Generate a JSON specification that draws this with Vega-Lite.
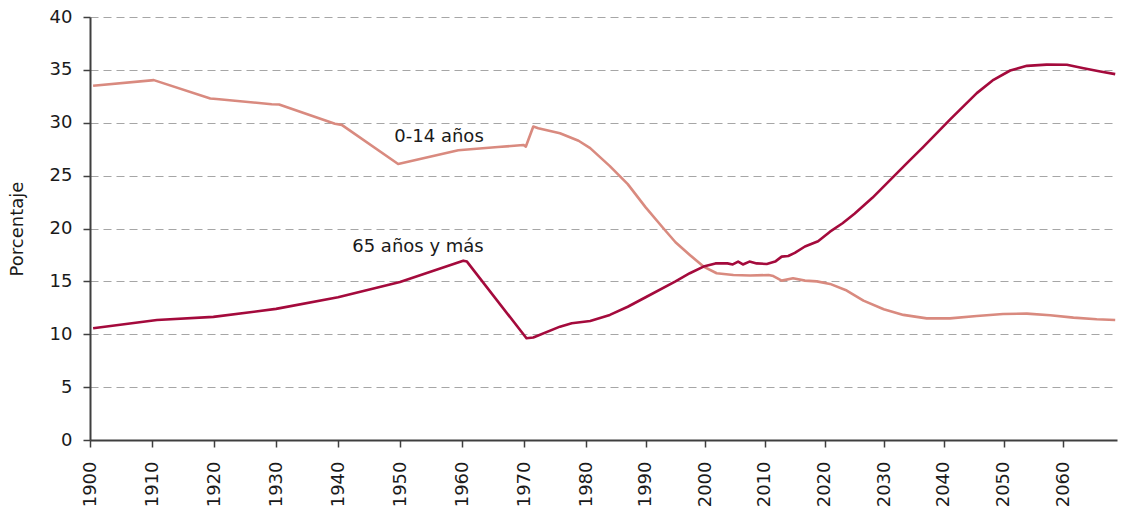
{
  "$schema": "https://vega.github.io/schema/vega-lite/v6.json",
  "width": 1027,
  "height": 423,
  "autosize": {"type": "none"},
  "padding": {"left": 90, "top": 17, "right": 6, "bottom": 74},
  "background": "white",
  "config": {
    "view": {"stroke": null},
    "font": "DejaVu Sans",
    "axis": {
      "labelFont": "DejaVu Sans",
      "labelFontSize": 18,
      "labelColor": "#1a1a1a",
      "titleFont": "DejaVu Sans",
      "titleFontSize": 18,
      "titleFontWeight": "normal",
      "titleColor": "#1a1a1a",
      "domainColor": "#3f3f3f",
      "domainWidth": 2,
      "tickColor": "#3f3f3f",
      "tickWidth": 1.5
    }
  },
  "datasets": {
    "series": [
      {"serie": "0-14 años", "year": 1900.5, "value": 33.5},
      {"serie": "0-14 años", "year": 1910.3, "value": 34.03},
      {"serie": "0-14 años", "year": 1919.4, "value": 32.3},
      {"serie": "0-14 años", "year": 1920.4, "value": 32.25},
      {"serie": "0-14 años", "year": 1929.3, "value": 31.75},
      {"serie": "0-14 años", "year": 1930.5, "value": 31.72},
      {"serie": "0-14 años", "year": 1939.5, "value": 29.9},
      {"serie": "0-14 años", "year": 1940.6, "value": 29.8},
      {"serie": "0-14 años", "year": 1949.7, "value": 26.1},
      {"serie": "0-14 años", "year": 1959.4, "value": 27.4},
      {"serie": "0-14 años", "year": 1965.8, "value": 27.7},
      {"serie": "0-14 años", "year": 1969.9, "value": 27.9},
      {"serie": "0-14 años", "year": 1970.3, "value": 27.75},
      {"serie": "0-14 años", "year": 1971.5, "value": 29.64},
      {"serie": "0-14 años", "year": 1972.3, "value": 29.49},
      {"serie": "0-14 años", "year": 1975.8, "value": 29.0},
      {"serie": "0-14 años", "year": 1978.8, "value": 28.3},
      {"serie": "0-14 años", "year": 1980.7, "value": 27.6},
      {"serie": "0-14 años", "year": 1984.0, "value": 25.9},
      {"serie": "0-14 años", "year": 1987.0, "value": 24.2},
      {"serie": "0-14 años", "year": 1990.0, "value": 22.0},
      {"serie": "0-14 años", "year": 1993.0, "value": 20.0},
      {"serie": "0-14 años", "year": 1995.0, "value": 18.7},
      {"serie": "0-14 años", "year": 1997.4, "value": 17.5},
      {"serie": "0-14 años", "year": 1999.7, "value": 16.4},
      {"serie": "0-14 años", "year": 2001.9, "value": 15.77},
      {"serie": "0-14 años", "year": 2004.7, "value": 15.6},
      {"serie": "0-14 años", "year": 2007.5, "value": 15.55},
      {"serie": "0-14 años", "year": 2010.6, "value": 15.6},
      {"serie": "0-14 años", "year": 2011.4, "value": 15.5},
      {"serie": "0-14 años", "year": 2012.8, "value": 15.07},
      {"serie": "0-14 años", "year": 2014.7, "value": 15.3},
      {"serie": "0-14 años", "year": 2016.7, "value": 15.07},
      {"serie": "0-14 años", "year": 2018.7, "value": 15.0},
      {"serie": "0-14 años", "year": 2020.9, "value": 14.76},
      {"serie": "0-14 años", "year": 2023.7, "value": 14.13},
      {"serie": "0-14 años", "year": 2026.5, "value": 13.18},
      {"serie": "0-14 años", "year": 2029.9, "value": 12.36},
      {"serie": "0-14 años", "year": 2033.2, "value": 11.83},
      {"serie": "0-14 años", "year": 2037.1, "value": 11.5},
      {"serie": "0-14 años", "year": 2041.0, "value": 11.5},
      {"serie": "0-14 años", "year": 2045.5, "value": 11.73},
      {"serie": "0-14 años", "year": 2049.9, "value": 11.92},
      {"serie": "0-14 años", "year": 2053.9, "value": 11.95},
      {"serie": "0-14 años", "year": 2057.8, "value": 11.8},
      {"serie": "0-14 años", "year": 2061.7, "value": 11.57},
      {"serie": "0-14 años", "year": 2065.6, "value": 11.42},
      {"serie": "0-14 años", "year": 2068.7, "value": 11.35},
      {"serie": "65 años y más", "year": 1900.5, "value": 10.57},
      {"serie": "65 años y más", "year": 1910.8, "value": 11.35},
      {"serie": "65 años y más", "year": 1919.9, "value": 11.64},
      {"serie": "65 años y más", "year": 1930.0, "value": 12.4},
      {"serie": "65 años y más", "year": 1940.0, "value": 13.5},
      {"serie": "65 años y más", "year": 1950.0, "value": 14.95},
      {"serie": "65 años y más", "year": 1960.2, "value": 16.96},
      {"serie": "65 años y más", "year": 1960.8, "value": 16.87},
      {"serie": "65 años y más", "year": 1970.4, "value": 9.62},
      {"serie": "65 años y más", "year": 1971.5, "value": 9.7},
      {"serie": "65 años y más", "year": 1975.8, "value": 10.72},
      {"serie": "65 años y más", "year": 1977.7, "value": 11.04},
      {"serie": "65 años y más", "year": 1980.7, "value": 11.26},
      {"serie": "65 años y más", "year": 1984.0, "value": 11.83},
      {"serie": "65 años y más", "year": 1987.0, "value": 12.6},
      {"serie": "65 años y más", "year": 1990.0, "value": 13.5},
      {"serie": "65 años y más", "year": 1995.0, "value": 15.0},
      {"serie": "65 años y más", "year": 1997.4, "value": 15.77},
      {"serie": "65 años y más", "year": 1999.7, "value": 16.4},
      {"serie": "65 años y más", "year": 2001.7, "value": 16.7},
      {"serie": "65 años y más", "year": 2003.7, "value": 16.7},
      {"serie": "65 años y más", "year": 2004.6, "value": 16.6},
      {"serie": "65 años y más", "year": 2005.5, "value": 16.87},
      {"serie": "65 años y más", "year": 2006.3, "value": 16.6},
      {"serie": "65 años y más", "year": 2007.4, "value": 16.87},
      {"serie": "65 años y más", "year": 2008.6, "value": 16.7},
      {"serie": "65 años y más", "year": 2010.3, "value": 16.65},
      {"serie": "65 años y más", "year": 2011.7, "value": 16.87},
      {"serie": "65 años y más", "year": 2012.8, "value": 17.34},
      {"serie": "65 años y más", "year": 2013.9, "value": 17.4},
      {"serie": "65 años y más", "year": 2015.0, "value": 17.7},
      {"serie": "65 años y más", "year": 2016.7, "value": 18.3},
      {"serie": "65 años y más", "year": 2018.9, "value": 18.8},
      {"serie": "65 años y más", "year": 2020.9, "value": 19.7},
      {"serie": "65 años y más", "year": 2023.0, "value": 20.5},
      {"serie": "65 años y más", "year": 2025.0, "value": 21.4},
      {"serie": "65 años y más", "year": 2028.0, "value": 22.9},
      {"serie": "65 años y más", "year": 2031.0, "value": 24.6},
      {"serie": "65 años y más", "year": 2034.0, "value": 26.3},
      {"serie": "65 años y más", "year": 2036.5, "value": 27.7},
      {"serie": "65 años y más", "year": 2041.0, "value": 30.3},
      {"serie": "65 años y más", "year": 2045.5, "value": 32.8},
      {"serie": "65 años y más", "year": 2048.3, "value": 34.06},
      {"serie": "65 años y más", "year": 2051.1, "value": 34.94},
      {"serie": "65 años y más", "year": 2053.9, "value": 35.38},
      {"serie": "65 años y más", "year": 2057.2, "value": 35.5},
      {"serie": "65 años y más", "year": 2060.6, "value": 35.48},
      {"serie": "65 años y más", "year": 2063.4, "value": 35.16},
      {"serie": "65 años y más", "year": 2066.2, "value": 34.85},
      {"serie": "65 años y más", "year": 2068.7, "value": 34.6}
    ]
  },
  "layer": [
    {
      "data": {"name": "series"},
      "mark": {"type": "line", "strokeWidth": 2.6, "strokeJoin": "round"},
      "encoding": {
        "x": {
          "field": "year",
          "type": "quantitative",
          "scale": {"domain": [1900, 1980, 2069], "range": [0, 496, 1027], "nice": false, "zero": false},
          "axis": {
            "values": [1900, 1910, 1920, 1930, 1940, 1950, 1960, 1970, 1980, 1990, 2000, 2010, 2020, 2030, 2040, 2050, 2060],
            "format": "d",
            "labelAngle": -90,
            "labelPadding": 14,
            "tickSize": 7,
            "grid": false,
            "title": null
          }
        },
        "y": {
          "field": "value",
          "type": "quantitative",
          "scale": {"domain": [0, 40], "nice": false},
          "axis": {
            "values": [0, 5, 10, 15, 20, 25, 30, 35, 40],
            "tickSize": 7,
            "labelPadding": 11,
            "grid": true,
            "gridDash": [8, 5],
            "gridColor": "#a6a6a6",
            "gridWidth": 1.2,
            "title": "Porcentaje",
            "titleX": -72.5,
            "titleBaseline": "middle"
          }
        },
        "color": {
          "field": "serie",
          "type": "nominal",
          "scale": {"domain": ["0-14 años", "65 años y más"], "range": ["#D98A7F", "#A40A3C"]},
          "legend": null
        },
        "order": {"field": "year", "type": "quantitative"}
      }
    },
    {
      "data": {"values": [{"label": "0-14 años", "year": 1956.3, "value": 28.22}, {"label": "65 años y más", "year": 1952.9, "value": 17.79}]},
      "mark": {"type": "text", "font": "DejaVu Sans", "fontSize": 18, "color": "#1a1a1a", "align": "center", "baseline": "alphabetic"},
      "encoding": {
        "x": {"field": "year", "type": "quantitative"},
        "y": {"field": "value", "type": "quantitative"},
        "text": {"field": "label", "type": "nominal"}
      }
    }
  ]
}
